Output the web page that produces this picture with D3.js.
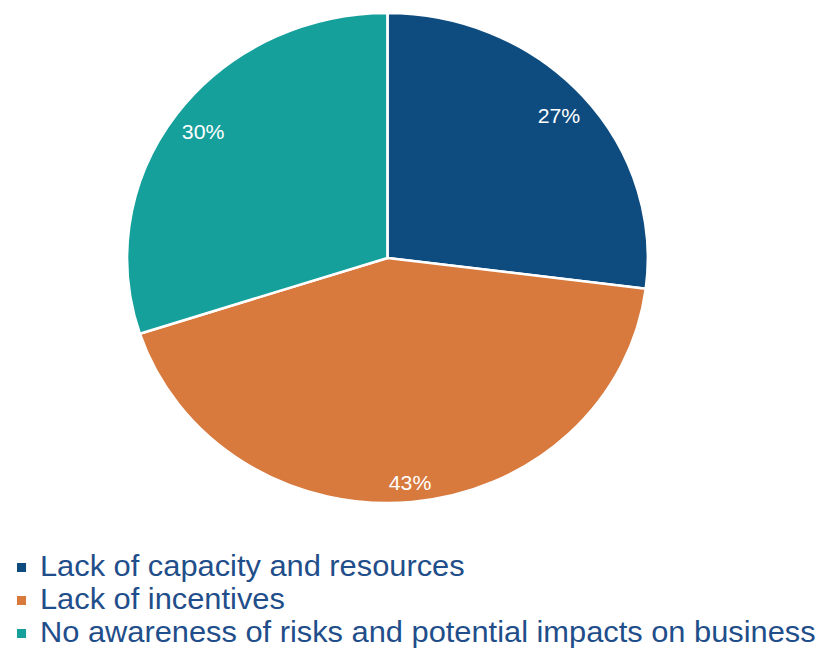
<!DOCTYPE html>
<html>
<head>
<meta charset="utf-8">
<script src="https://cdn.jsdelivr.net/npm/d3@7"></script>
<style>
  html, body { margin: 0; padding: 0; background: #ffffff; }
  svg { display: block; }
  text { font-family: "Liberation Sans", Arial, sans-serif; }
</style>
</head>
<body>
<svg id="chart" width="821" height="650"></svg>
<script>
// Barriers to action — share of responses
const categories = [
  "Lack of capacity and resources",
  "Lack of incentives",
  "No awareness of risks and potential impacts on business"
];
const values = [27, 43, 30];
const colors = ["#0e4c7f", "#d8793e", "#15a09c"];

const width = 821, height = 650;
const stretchX = 1.063;          // the figure is drawn slightly wider than tall
const cx = 364.5, cy = 258, radius = 245;

const svg = d3.select("#chart");
const root = svg.append("g").attr("transform", `scale(${stretchX},1)`);

const data = categories.map((c, i) => ({ name: c, value: values[i], color: colors[i] }));

const pie = d3.pie().value(d => d.value).sort(null);
const arc = d3.arc().innerRadius(0).outerRadius(radius);
const arcs = pie(data);

const g = root.append("g").attr("transform", `translate(${cx},${cy})`);

g.selectAll("path.slice")
  .data(arcs)
  .join("path")
  .attr("class", "slice")
  .attr("d", arc)
  .attr("fill", d => d.data.color)
  .attr("stroke", "#ffffff")
  .attr("stroke-width", 2.5)
  .attr("stroke-linejoin", "round");

// Percentage labels placed "inside end": the label box sits just inside the rim
const inset = 10;
const labels = g.selectAll("text.pct")
  .data(arcs)
  .join("text")
  .attr("class", "pct")
  .attr("text-anchor", "middle")
  .attr("dominant-baseline", "central")
  .attr("fill", "#ffffff")
  .attr("font-size", 20)
  .text(d => d.data.value + "%");

labels.each(function(d) {
  const bb = this.getBBox();
  const hw = bb.width / 2, hh = 7.5;
  const a = (d.startAngle + d.endAngle) / 2;
  const s = Math.sin(a), c = Math.cos(a);
  const extent = Math.abs(hw * s) + Math.abs(hh * c);
  const r = radius - inset - extent;
  d3.select(this).attr("x", r * s).attr("y", -r * c);
});

// Legend
const legendX = 37.6, legendY0 = 576, legendStep = 33;
const legend = root.append("g");
const rows = legend.selectAll("g.row")
  .data(data)
  .join("g")
  .attr("class", "row")
  .attr("transform", (d, i) => `translate(0,${legendY0 + i * legendStep})`);

rows.append("rect")
  .attr("x", 16)
  .attr("y", -13)
  .attr("width", 8.5)
  .attr("height", 9)
  .attr("fill", d => d.color);

rows.append("text")
  .attr("x", legendX)
  .attr("y", 0)
  .attr("fill", "#1f4e8a")
  .attr("font-size", 29)
  .text(d => d.name);
</script>
</body>
</html>
